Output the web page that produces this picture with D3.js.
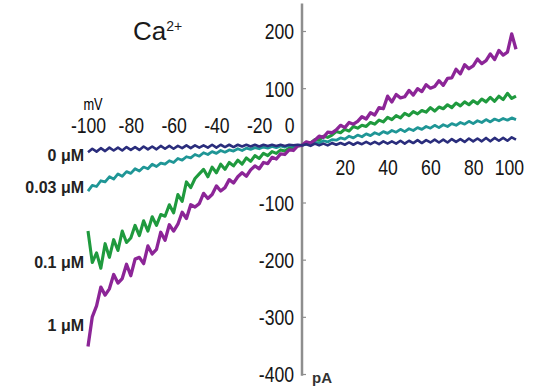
<!DOCTYPE html>
<html><head><meta charset="utf-8">
<script src="https://cdn.jsdelivr.net/npm/d3@7"></script>
<style>
body{margin:0;background:#fff;}
svg{display:block;}
.tick text{font-family:"Liberation Sans",Arial,sans-serif;font-size:22px;fill:#151515;}
</style></head>
<body><svg id="c" width="539" height="391"></svg>
<script>
// ---- data ----
const seriesNames = ["0 μM", "0.03 μM", "0.1 μM", "1 μM"];
const seriesColors = ["#2a2d7c", "#1f9696", "#1f9a3e", "#8c2597"];
const labelLevels = [-17, -73, -204, -314];   // pA level where each concentration label sits
const xTicksNeg = [-100, -80, -60, -40, -20, 0];
const xTicksPos = [20, 40, 60, 80, 100];
const yTicks = [200, 100, -100, -200, -300, -400];
const voltages = d3.range(-100, 101, 2); // mV sample grid

const i0 = [-12,-6,-11,-5,-10,-4,-9,-4,-9,-3,-8,-3,-8,-2,-7,-2,-7,-1,-6,-1,-6,-1,-5,0,-5,0,-4,0,-4,1,-4,1,-3,1,-3,1,-2,1,-2,1,-2,1,-1,1,-1,1,-1,1,0,1,
  0,2,-1,3,0,3,0,4,1,4,1,5,1,5,2,6,2,6,2,7,3,7,3,8,3,8,4,9,4,9,5,10,5,10,5,11,6,11,6,12,7,12,7,13,7,13,8,13,8,14,10];
const i003 = [-80,-70,-72,-62,-64,-55,-59,-50,-54,-46,-49,-41,-45,-38,-41,-33,-37,-31,-33,-27,-30,-23,-26,-20,-22,-16,-19,-13,-16,-11,-14,-9,-12,-8,-10,-6,-9,-5,-7,-4,-6,-3,-5,-2,-4,-1,-3,0,-2,0,
  0,2,2,5,4,8,6,10,9,13,11,16,13,18,15,20,17,22,19,24,21,26,23,28,24,29,26,31,28,33,30,35,31,36,33,38,35,40,37,42,38,43,40,45,41,46,43,47,44,48,45];
const i01 = [-150,-205,-188,-215,-172,-196,-165,-184,-150,-170,-162,-140,-158,-132,-150,-125,-140,-121,-124,-104,-118,-86,-98,-64,-74,-58,-50,-42,-55,-38,-48,-33,-42,-30,-36,-26,-33,-22,-28,-18,-23,-14,-18,-11,-14,-8,-10,-5,-5,-1,
  0,5,4,10,9,16,14,18,24,22,28,25,33,30,35,33,40,37,44,41,49,45,52,48,56,52,59,55,61,58,66,60,67,64,71,66,74,69,76,71,78,73,81,76,84,77,86,80,91,82,86];
const i1 = [-352,-300,-281,-248,-262,-251,-226,-241,-233,-208,-228,-199,-196,-207,-176,-190,-182,-152,-166,-139,-150,-138,-117,-128,-104,-108,-102,-84,-93,-86,-71,-80,-74,-60,-66,-55,-48,-54,-43,-36,-41,-30,-32,-21,-24,-15,-16,-8,-9,-1,
  0,6,4,9,16,14,23,22,27,35,31,40,37,42,50,46,57,53,66,64,86,76,89,83,85,96,88,99,94,106,100,103,113,105,117,118,133,125,141,134,139,151,143,148,160,150,166,158,163,195,168];
const seriesValues = [i0, i003, i01, i1];
const seriesWidths = [2.6, 2.8, 3.1, 3.3];

// ---- chart ----
const svg = d3.select("#c");
const x = d3.scaleLinear().domain([-100, 100]).range([88, 516]);
const y = d3.scaleLinear().domain([-400, 200]).range([374, 31]);
const fmt = d => String(d);
const narrow = "scale(0.8,1)";

// y axis line
svg.append("line")
  .attr("x1", x(0)).attr("x2", x(0))
  .attr("y1", y(248)).attr("y2", y(-403))
  .attr("stroke", "#8e8e8e").attr("stroke-width", 2.5);

const yAx = svg.append("g").attr("transform", `translate(${x(0)},0)`)
  .call(d3.axisLeft(y).tickValues(yTicks).tickFormat(fmt).tickSizeInner(-4).tickSizeOuter(0).tickPadding(10));
yAx.select(".domain").remove();
yAx.selectAll(".tick line").attr("stroke", "#8e8e8e").attr("stroke-width", 1.2);
yAx.selectAll(".tick text").attr("dy", "0.36em").attr("transform", narrow);

const xTop = svg.append("g").attr("transform", `translate(0,${y(0)})`)
  .call(d3.axisTop(x).tickValues(xTicksNeg).tickFormat(fmt).tickSize(0).tickPadding(12));
xTop.select(".domain").remove();
xTop.selectAll(".tick text").attr("transform", narrow);
xTop.selectAll(".tick").filter(d => d === 0).select("text").attr("text-anchor", "end").attr("dx", "-10");

const xBot = svg.append("g").attr("transform", `translate(0,${y(0)})`)
  .call(d3.axisBottom(x).tickValues(xTicksPos).tickFormat(fmt).tickSize(0).tickPadding(14));
xBot.select(".domain").remove();
xBot.selectAll(".tick text").attr("dy", "0.72em").attr("transform", narrow);
xBot.selectAll(".tick").filter(d => d === 100).select("text").attr("dx", "-9");

// traces
const line = d3.line().x((d, i) => x(voltages[i])).y(d => y(d));
const order = [2, 1, 3, 0];
order.forEach(k => {
  svg.append("path").datum(seriesValues[k])
    .attr("d", line)
    .attr("fill", "none")
    .attr("stroke", seriesColors[k])
    .attr("stroke-width", seriesWidths[k])
    .attr("stroke-linejoin", "round");
});

// concentration labels
svg.append("g").selectAll("text").data(seriesNames).join("text")
  .attr("x", x(-100) - 4)
  .attr("y", (d, i) => y(labelLevels[i]))
  .attr("dy", "0.36em")
  .attr("text-anchor", "end")
  .attr("font-family", "Liberation Sans, Arial, sans-serif")
  .attr("font-weight", "bold")
  .attr("font-size", 16)
  .attr("fill", "#222")
  .text(d => d);

// axis unit labels
svg.append("text").attr("transform", `translate(${x(-100) + 5},110) ${narrow}`)
  .attr("text-anchor", "middle")
  .attr("font-family", "Liberation Sans, Arial, sans-serif")
  .attr("font-size", 16).attr("fill", "#000").text("mV");
svg.append("text").attr("x", x(0) + 10).attr("y", 383)
  .attr("font-family", "Liberation Sans, Arial, sans-serif")
  .attr("font-weight", "bold")
  .attr("font-size", 15).attr("fill", "#333").text("pA");

// title
const t = svg.append("text").attr("x", 133).attr("y", 40)
  .attr("font-family", "Liberation Sans, Arial, sans-serif")
  .attr("font-size", 26).attr("fill", "#1a1a1a");
t.append("tspan").text("Ca");
t.append("tspan").attr("font-size", 14).attr("dy", -9).text("2+");
</script>
</body></html>
